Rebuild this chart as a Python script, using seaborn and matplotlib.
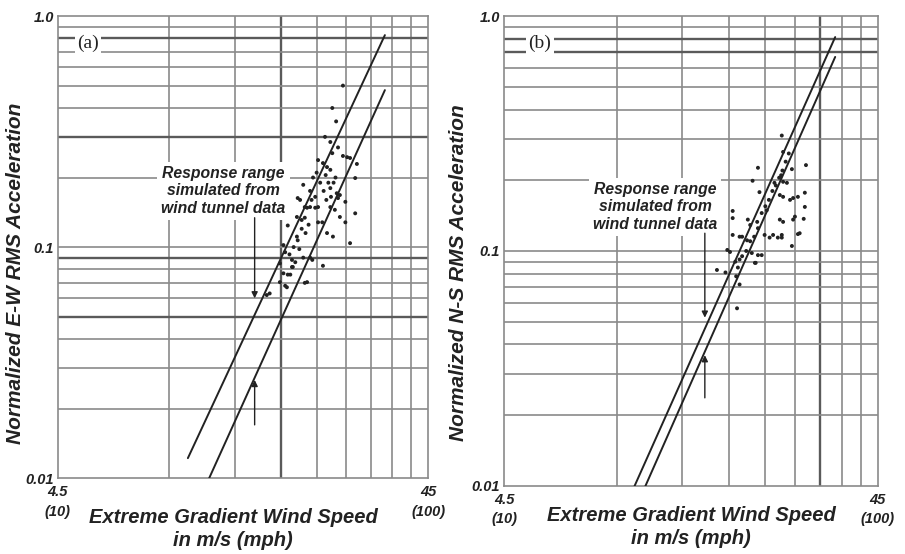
import numpy as np
import pandas as pd
import matplotlib
matplotlib.use("Agg")
import matplotlib.pyplot as plt
import seaborn as sns

sns.set_theme(style="white")
plt.rcParams['font.family'] = ['Liberation Sans', 'DejaVu Sans']

# ---------------- data ----------------
# Panel (a): E-W measured points (wind speed m/s, normalized RMS acceleration)
a_x = [26.5, 24.8, 25.4, 23.7, 24.5, 25.7, 24.8, 26.5, 27.2, 27.7, 28.9, 22.7, 23.4,
       24.0, 24.5, 28.6, 20.7, 21.6, 25.5, 26.0, 25.7, 20.0, 26.9, 20.9, 21.6, 22.7,
       24.5, 25.2, 28.6, 19.9, 22.7, 23.3, 26.9, 18.8, 24.0, 19.9, 24.9, 27.7, 18.3,
       18.5, 19.3, 19.7, 21.9, 17.9, 19.3, 23.4, 18.3, 18.8, 21.2, 17.9, 18.5, 16.8,
       20.3, 21.2, 22.3, 20.5, 20.9, 26.0, 20.0, 19.4, 20.7, 21.6, 19.1, 18.7, 20.9,
       16.5, 22.0, 22.5, 23.0, 23.8, 24.2, 23.5, 24.5, 25.0, 25.3, 24.6, 23.9, 22.3,
       21.8, 20.5, 21.0, 21.4, 19.5, 20.2, 19.0]
a_y = [0.50, 0.40, 0.35, 0.30, 0.285, 0.27, 0.255, 0.248, 0.245, 0.243, 0.229, 0.238,
       0.231, 0.222, 0.216, 0.199, 0.186, 0.175, 0.171, 0.168, 0.163, 0.163, 0.157,
       0.149, 0.149, 0.149, 0.149, 0.145, 0.140, 0.135, 0.128, 0.128, 0.128, 0.124,
       0.115, 0.111, 0.111, 0.104, 0.102, 0.095, 0.088, 0.086, 0.088, 0.085, 0.082,
       0.083, 0.077, 0.076, 0.0705, 0.0705, 0.068, 0.063, 0.160, 0.148, 0.148, 0.131,
       0.134, 0.135, 0.107, 0.082, 0.090, 0.090, 0.076, 0.067, 0.070, 0.062, 0.20,
       0.21, 0.19, 0.205, 0.19, 0.175, 0.18, 0.19, 0.20, 0.165, 0.16, 0.165, 0.16,
       0.12, 0.115, 0.125, 0.10, 0.098, 0.093]

# Panel (b): N-S measured points
b_x = [24.9, 25.1, 21.5, 28.9, 26.5, 20.8, 25.1, 25.7, 21.7, 28.7, 24.6, 25.1, 27.5,
       26.7, 26.2, 28.7, 18.4, 18.4, 20.2, 22.7, 24.6, 27.0, 28.5, 25.1, 26.7, 18.4,
       19.2, 22.4, 23.1, 23.6, 24.9, 24.9, 27.5, 27.8, 26.5, 17.8, 18.1, 20.7, 21.5,
       22.0, 19.2, 18.7, 21.2, 21.1, 16.7, 17.6, 19.2, 18.9, 20.1, 19.5, 20.5, 21.4,
       24.3, 20.0, 20.5, 21.0, 21.5, 22.0, 22.5, 23.0, 23.5, 24.0, 24.5, 25.0, 25.5,
       26.0, 19.5, 19.0, 18.8, 23.8, 24.8]
b_y = [0.31, 0.264, 0.226, 0.232, 0.223, 0.199, 0.197, 0.195, 0.178, 0.177, 0.173,
       0.170, 0.170, 0.168, 0.165, 0.154, 0.148, 0.138, 0.136, 0.149, 0.136, 0.140,
       0.137, 0.133, 0.136, 0.117, 0.115, 0.117, 0.114, 0.117, 0.117, 0.114, 0.118,
       0.119, 0.105, 0.101, 0.099, 0.098, 0.096, 0.096, 0.092, 0.090, 0.089, 0.089,
       0.083, 0.081, 0.072, 0.057, 0.111, 0.115, 0.129, 0.133, 0.114, 0.10, 0.11,
       0.115, 0.125, 0.145, 0.155, 0.165, 0.18, 0.19, 0.205, 0.22, 0.24, 0.26, 0.095,
       0.085, 0.078, 0.195, 0.21]

# Simulated response range lines (end points)
a_upper_x = [10.1, 34.4]
a_upper_y = [0.0122, 0.827]
a_lower_x = [11.4, 34.4]
a_lower_y = [0.0096, 0.478]
b_upper_x = [10.0, 34.6]
b_upper_y = [0.0098, 0.814]
b_lower_x = [10.6, 34.6]
b_lower_y = [0.0095, 0.67]

# Arrows (x, start y, end y)
a_arrow_x = 15.3
a_arrow_down = (0.134, 0.060)
a_arrow_up = (0.017, 0.0266)
b_arrow_x = 15.5
b_arrow_down = (0.119, 0.052)
b_arrow_up = (0.0237, 0.036)

x_ticks = [4.5, 45]
x_tick_labels = ["4.5\n(10)", "45\n(100)"]
y_ticks = [0.01, 0.1, 1.0]
y_tick_labels = ["0.01", "0.1", "1.0"]
x_grid = [9, 13.5, 18, 22.5, 27, 31.5, 36, 40.5]
y_grid = [0.02, 0.03, 0.04, 0.05, 0.06, 0.07, 0.08, 0.09, 0.1,
          0.2, 0.3, 0.4, 0.5, 0.6, 0.7, 0.8, 0.9]

annot_text = "Response range\nsimulated from\nwind tunnel data"

# ---------------- figure ----------------
fig = plt.figure(figsize=(9.05, 5.54), dpi=100)
ax_a = fig.add_axes([0.064, 0.137, 0.409, 0.834])
ax_b = fig.add_axes([0.557, 0.123, 0.413, 0.848])

TXT = "#222222"
GRID = "#8a8a8a"
DARK = "#5a5a5a"


def setup(ax, heavy_x, heavy_y, ylabel, panel, px, ann_xy, arr_x, arr_dn, arr_up,
          xs, ys, lines, ylab_xy, xlab_xy):
    ax.set_xscale("log")
    ax.set_yscale("log")
    ax.set_xlim(4.5, 45)
    ax.set_ylim(0.01, 1.0)
    for gx in x_grid:
        heavy = gx in heavy_x
        ax.axvline(gx, color=DARK if heavy else GRID, lw=1.7 if heavy else 1.2, zorder=1)
    for gy in y_grid:
        heavy = gy in heavy_y
        ax.axhline(gy, color=DARK if heavy else GRID, lw=1.7 if heavy else 1.2, zorder=1)
    for s in ax.spines.values():
        s.set_color(GRID)
        s.set_linewidth(1.2)

    df = pd.DataFrame({"x": xs, "y": ys})
    sns.scatterplot(data=df, x="x", y="y", ax=ax, color="#222222", s=8, marker="o",
                    edgecolor="none", zorder=4, legend=False)
    for lx, ly in lines:
        ldf = pd.DataFrame({"x": lx, "y": ly})
        sns.lineplot(data=ldf, x="x", y="y", ax=ax, color="#222222", lw=1.4,
                     sort=False, zorder=5, legend=False)

    ax.set_xticks(x_ticks)
    ax.set_xticklabels(x_tick_labels)
    ax.set_yticks(y_ticks)
    ax.set_yticklabels(y_tick_labels)
    ax.xaxis.set_minor_locator(matplotlib.ticker.NullLocator())
    ax.yaxis.set_minor_locator(matplotlib.ticker.NullLocator())
    ax.tick_params(axis="x", length=0, pad=5, labelsize=10.5, labelcolor=TXT)
    ax.tick_params(axis="y", length=0, pad=3, labelsize=10.5, labelcolor=TXT)
    for lab in ax.get_xticklabels() + ax.get_yticklabels():
        lab.set_fontweight("bold")
        lab.set_fontstyle("italic")
        lab.set_linespacing(1.5)
    xl = ax.get_xticklabels()
    xl[0].set_horizontalalignment("center")
    xl[1].set_horizontalalignment("center")
    ax.set_xlabel("Extreme Gradient Wind Speed\nin m/s (mph)", fontsize=14.5,
                  fontweight="bold", fontstyle="italic", color=TXT,
                  linespacing=1.3)
    ax.xaxis.set_label_coords(*xlab_xy)
    ax.set_ylabel(ylabel, fontsize=15, fontweight="bold", fontstyle="italic",
                  color=TXT)
    ax.yaxis.set_label_coords(*ylab_xy)

    ax.text(px[0], px[1], panel, transform=ax.transAxes, fontsize=14,
            family=["Liberation Serif", "DejaVu Serif"], color=TXT, ha="center",
            va="center", zorder=6,
            bbox=dict(facecolor="white", edgecolor="none", pad=1.5))
    ax.text(ann_xy[0], ann_xy[1], annot_text, fontsize=11.3, fontweight="bold",
            fontstyle="italic", color=TXT, ha="center", va="center", zorder=6,
            linespacing=1.2,
            bbox=dict(facecolor="white", edgecolor="none", pad=3))
    ap = dict(arrowstyle="-|>", color="#222222", lw=1.0, mutation_scale=9,
              shrinkA=0, shrinkB=0)
    ax.annotate("", xy=(arr_x, arr_dn[1]), xytext=(arr_x, arr_dn[0]), arrowprops=ap,
                zorder=7)
    ax.annotate("", xy=(arr_x, arr_up[1]), xytext=(arr_x, arr_up[0]), arrowprops=ap,
                zorder=7)


setup(ax_a, heavy_x=[18], heavy_y=[0.8, 0.3, 0.09, 0.05],
      ylabel="Normalized E-W RMS Acceleration", panel="(a)", px=(0.081, 0.942),
      ann_xy=(12.6, 0.175), arr_x=a_arrow_x, arr_dn=a_arrow_down, arr_up=a_arrow_up,
      xs=a_x, ys=a_y, lines=[(a_upper_x, a_upper_y), (a_lower_x, a_lower_y)],
      ylab_xy=(-0.089, 0.444), xlab_xy=(0.473, -0.064))
setup(ax_b, heavy_x=[31.5], heavy_y=[0.8, 0.7],
      ylabel="Normalized N-S RMS Acceleration", panel="(b)", px=(0.096, 0.943),
      ann_xy=(11.4, 0.154), arr_x=b_arrow_x, arr_dn=b_arrow_down, arr_up=b_arrow_up,
      xs=b_x, ys=b_y, lines=[(b_upper_x, b_upper_y), (b_lower_x, b_lower_y)],
      ylab_xy=(-0.096, 0.453), xlab_xy=(0.5, -0.042))

fig.savefig("out.png", dpi=100, facecolor="white")
